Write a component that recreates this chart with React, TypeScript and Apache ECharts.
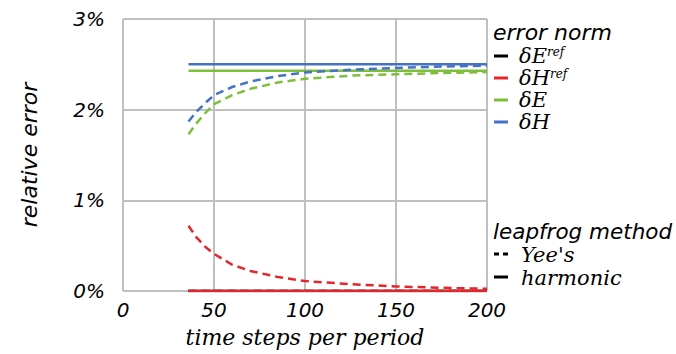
import React, { useEffect, useRef } from "react";
import * as echarts from "echarts";

const steps = [36, 40, 45, 50, 60, 70, 85, 100, 125, 150, 175, 200];
const yeeDH = [1.87, 1.97, 2.07, 2.16, 2.25, 2.31, 2.37, 2.41, 2.44, 2.46, 2.475, 2.485];
const yeeDE = [1.73, 1.84, 1.96, 2.06, 2.16, 2.23, 2.3, 2.34, 2.375, 2.39, 2.405, 2.415];
const harmDH = [2.5, 2.5, 2.5, 2.5, 2.5, 2.5, 2.5, 2.5, 2.5, 2.5, 2.5, 2.5];
const harmDE = [2.43, 2.43, 2.43, 2.43, 2.43, 2.43, 2.43, 2.43, 2.43, 2.43, 2.43, 2.43];
const yeeDHref = [0.72, 0.6, 0.49, 0.41, 0.29, 0.22, 0.155, 0.11, 0.075, 0.05, 0.035, 0.025];
const harmDHref = [0, 0, 0, 0, 0, 0, 0, 0, 0, 0, 0, 0];
const yeeDEref = [0, 0, 0, 0, 0, 0, 0, 0, 0, 0, 0, 0];
const harmDEref = [0, 0, 0, 0, 0, 0, 0, 0, 0, 0, 0, 0];

const BLUE = "#4472C4";
const GREEN = "#7DBE3C";
const RED = "#E3262B";
const GRID = "#BFBFBF";
const SANS = "DejaVu Sans";
const SERIF = "DejaVu Serif";

const pts = (ys: number[]) => steps.map((x, i) => [x, ys[i]]);

export default function App() {
  const ref = useRef<HTMLDivElement>(null);
  useEffect(() => {
    if (!ref.current) return;
    const chart = echarts.init(ref.current, null, { renderer: "svg" });
    const mk = (name: string, ys: number[], color: string, dashed: boolean, z: number) => ({
      name,
      type: "line",
      data: pts(ys),
      showSymbol: false,
      symbol: "none",
      z,
      lineStyle: { color, width: 2.5, type: dashed ? [8, 5] : "solid" },
    });
    const legendLine = (y: number, color: string) => ({
      type: "line",
      shape: { x1: 494, y1: y, x2: 508, y2: y },
      style: { stroke: color, lineWidth: 3 },
    });
    const richFont = {
      m: { fontFamily: SERIF, fontStyle: "italic", fontSize: 21, lineHeight: 20, color: "#000" },
      s: {
        fontFamily: SERIF,
        fontStyle: "italic",
        fontSize: 12,
        lineHeight: 12,
        verticalAlign: "top",
        color: "#000",
      },
    };
    const sym = (x: number, y: number, t: string) => ({
      type: "text",
      left: x,
      top: y,
      style: { text: t, rich: richFont },
    });
    const plain = (x: number, y: number, t: string, fam: string, size: number) => ({
      type: "text",
      left: x,
      top: y,
      style: { text: t, font: `italic ${size}px '${fam}'`, lineHeight: 20, fill: "#000" },
    });
    chart.setOption({
      animation: false,
      grid: { left: 123, right: 189, top: 19, bottom: 63 },
      xAxis: {
        type: "value",
        min: 0,
        max: 200,
        interval: 50,
        name: "time steps per period",
        nameLocation: "middle",
        nameGap: 35,
        nameTextStyle: { fontFamily: SERIF, fontStyle: "italic", fontSize: 22, color: "#000" },
        axisLine: { show: false },
        axisTick: { show: false },
        axisLabel: { fontFamily: SANS, fontStyle: "italic", fontSize: 20, color: "#000", margin: 9 },
        splitLine: { show: true, lineStyle: { color: GRID, width: 2 } },
      },
      yAxis: {
        type: "value",
        min: 0,
        max: 3,
        interval: 1,
        name: "relative error",
        nameLocation: "middle",
        nameGap: 83,
        nameRotate: 90,
        nameTextStyle: { fontFamily: SANS, fontStyle: "italic", fontSize: 22, color: "#000" },
        axisLine: { show: false },
        axisTick: { show: false },
        axisLabel: {
          fontFamily: SANS,
          fontStyle: "italic",
          fontSize: 20,
          color: "#000",
          margin: 18,
          formatter: (v: number) => `${v}%`,
        },
        splitLine: { show: true, lineStyle: { color: GRID, width: 2 } },
      },
      series: [
        mk("δE ref Yee", yeeDEref, "#000", true, 1),
        mk("δE ref harmonic", harmDEref, "#000", false, 1),
        mk("δH ref Yee", yeeDHref, RED, true, 3),
        mk("δH ref harmonic", harmDHref, RED, false, 3),
        mk("δE Yee", yeeDE, GREEN, true, 3),
        mk("δE harmonic", harmDE, GREEN, false, 3),
        mk("δH Yee", yeeDH, BLUE, true, 4),
        mk("δH harmonic", harmDH, BLUE, false, 4),
      ],
      graphic: [
        plain(493, 21, "error norm", SANS, 22),
        legendLine(56, "#000"),
        sym(519, 45, "{m|δE}{s|ref}"),
        legendLine(78, RED),
        sym(519, 67, "{m|δH}{s|ref}"),
        legendLine(100, GREEN),
        sym(519, 89, "{m|δE}"),
        legendLine(122, BLUE),
        sym(519, 111, "{m|δH}"),
        plain(493, 220, "leapfrog method", SANS, 21.5),
        {
          type: "line",
          shape: { x1: 494, y1: 254, x2: 509, y2: 254 },
          style: { stroke: "#000", lineWidth: 3, lineDash: [5, 4] },
        },
        plain(521, 244, "Yee's", SERIF, 21),
        legendLine(277, "#000"),
        plain(521, 267, "harmonic", SERIF, 21),
      ],
    });
    return () => chart.dispose();
  }, []);
  return <div ref={ref} style={{ width: 676, height: 354, position: "absolute", left: 0, top: 0 }} />;
}
